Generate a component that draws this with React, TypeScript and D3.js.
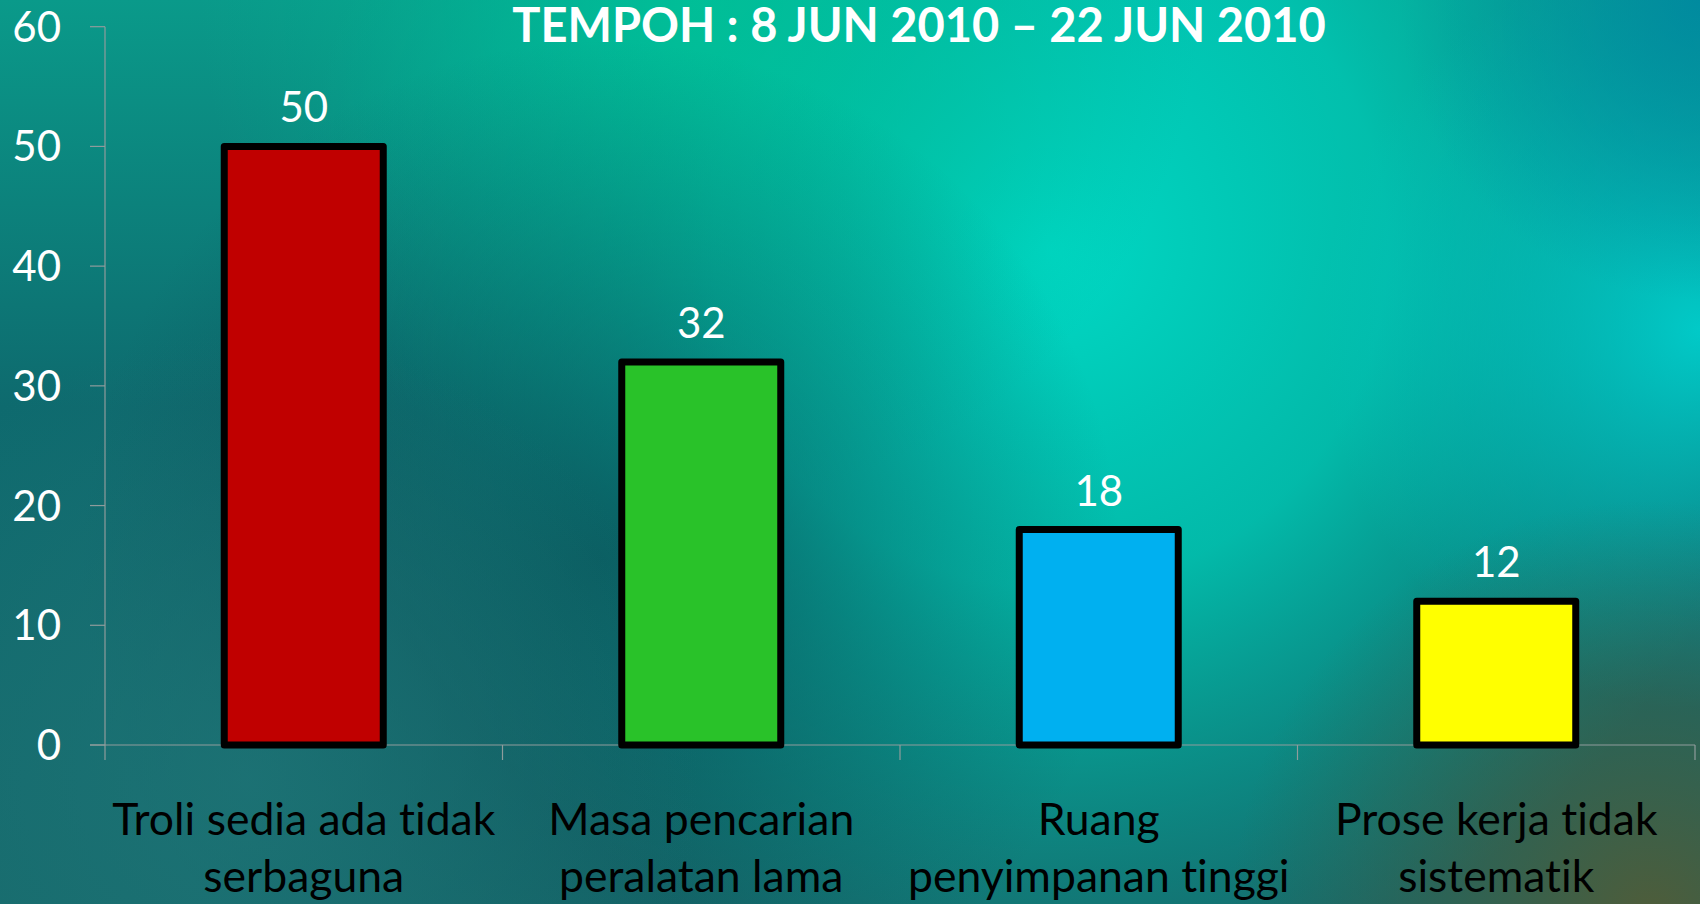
import React from "react";
import * as d3 from "d3";

const categories: string[][] = [
  ["Troli sedia ada tidak", "serbaguna"],
  ["Masa pencarian", "peralatan lama"],
  ["Ruang", "penyimpanan tinggi"],
  ["Prose kerja tidak", "sistematik"],
];
const values: number[] = [50, 32, 18, 12];
const barColors: string[] = ["#c00000", "#29c229", "#00b0f0", "#ffff00"];
const yTicks: number[] = [0, 10, 20, 30, 40, 50, 60];
const title = "TEMPOH : 8 JUN 2010 – 22 JUN 2010";

const W = 1700;
const H = 904;
const FONT = "Lato, 'Open Sans', sans-serif";
const noLig: React.CSSProperties = {
  fontVariantLigatures: "none",
  fontFeatureSettings: '"liga" 0, "clig" 0',
};

export default function App() {
  const keys = categories.map((c) => c.join(" "));
  const x = d3
    .scaleBand<string>()
    .domain(keys)
    .range([105, 1695])
    .paddingInner(0.6)
    .paddingOuter(0.3);
  const y = d3.scaleLinear().domain([0, 60]).range([745, 26.7]);
  const step = x.step();
  const boundaries = d3.range(keys.length + 1).map((i) => 105 + i * step);
  const axisColor = "#8f9c9c";

  return (
    <svg
      width={W}
      height={H}
      style={{ position: "absolute", left: 0, top: 0, display: "block" }}
    >
      <defs>
        <linearGradient id="base" x1="0" y1="0" x2="0" y2="1">
          <stop offset="0" stopColor="#0a9a8a" />
          <stop offset="0.45" stopColor="#0e6a6e" />
          <stop offset="1" stopColor="#166a6c" />
        </linearGradient>
        <radialGradient id="glow" cx="1050" cy="250" r="750" gradientUnits="userSpaceOnUse">
          <stop offset="0" stopColor="#00d8c4" stopOpacity="1" />
          <stop offset="0.45" stopColor="#00c8b4" stopOpacity="0.85" />
          <stop offset="1" stopColor="#00a898" stopOpacity="0" />
        </radialGradient>
        <radialGradient id="topglow" cx="700" cy="0" r="500" gradientUnits="userSpaceOnUse">
          <stop offset="0" stopColor="#00c096" stopOpacity="0.9" />
          <stop offset="1" stopColor="#00b090" stopOpacity="0" />
        </radialGradient>
        <radialGradient id="dark" cx="600" cy="560" r="520" gradientUnits="userSpaceOnUse">
          <stop offset="0" stopColor="#0b4f56" stopOpacity="0.75" />
          <stop offset="1" stopColor="#0b4f56" stopOpacity="0" />
        </radialGradient>
        <radialGradient id="rightcyan" cx="1700" cy="330" r="380" gradientUnits="userSpaceOnUse">
          <stop offset="0" stopColor="#00d2d0" stopOpacity="0.9" />
          <stop offset="1" stopColor="#00c8c8" stopOpacity="0" />
        </radialGradient>
        <radialGradient id="tr" cx="1700" cy="0" r="300" gradientUnits="userSpaceOnUse">
          <stop offset="0" stopColor="#0088a0" stopOpacity="0.9" />
          <stop offset="1" stopColor="#0088a0" stopOpacity="0" />
        </radialGradient>
        <radialGradient id="br" cx="1650" cy="920" r="420" gradientUnits="userSpaceOnUse">
          <stop offset="0" stopColor="#5a5a30" stopOpacity="0.85" />
          <stop offset="1" stopColor="#3a5a40" stopOpacity="0" />
        </radialGradient>
        <radialGradient id="bl" cx="250" cy="780" r="450" gradientUnits="userSpaceOnUse">
          <stop offset="0" stopColor="#1e7476" stopOpacity="0.8" />
          <stop offset="1" stopColor="#1e7476" stopOpacity="0" />
        </radialGradient>
      </defs>
      <rect x={0} y={0} width={W} height={H} fill="url(#base)" />
      <rect x={0} y={0} width={W} height={H} fill="url(#glow)" />
      <rect x={0} y={0} width={W} height={H} fill="url(#topglow)" />
      <rect x={0} y={0} width={W} height={H} fill="url(#dark)" />
      <rect x={0} y={0} width={W} height={H} fill="url(#rightcyan)" />
      <rect x={0} y={0} width={W} height={H} fill="url(#tr)" />
      <rect x={0} y={0} width={W} height={H} fill="url(#bl)" />
      <rect x={0} y={0} width={W} height={H} fill="url(#br)" />

      {/* Title */}
      <text
        x={919}
        y={42}
        textAnchor="middle"
        fill="#ffffff"
        fontFamily={FONT}
        fontWeight={700}
        fontSize={47}
        style={noLig}
      >
        {title}
      </text>

      {/* Y axis */}
      <line x1={105} x2={105} y1={y(60)} y2={y(0)} stroke={axisColor} strokeWidth={1.2} />
      {yTicks.map((t) => (
        <g key={t}>
          <line x1={90} x2={105} y1={y(t)} y2={y(t)} stroke={axisColor} strokeWidth={1.2} />
          <text
            x={61}
            y={y(t) + 15}
            textAnchor="end"
            fill="#ffffff"
            fontFamily={FONT}
            fontSize={42}
          >
            {t}
          </text>
        </g>
      ))}

      {/* X axis */}
      <line x1={90} x2={1695} y1={y(0)} y2={y(0)} stroke={axisColor} strokeWidth={1.2} />
      {boundaries.map((b, i) => (
        <line key={i} x1={b} x2={b} y1={y(0)} y2={y(0) + 15} stroke={axisColor} strokeWidth={1.2} />
      ))}

      {/* Bars */}
      {values.map((v, i) => (
        <rect
          key={keys[i]}
          x={x(keys[i])!}
          y={y(v)}
          width={x.bandwidth()}
          height={y(0) - y(v)}
          fill={barColors[i]}
          stroke="#000000"
          strokeWidth={7}
          strokeLinejoin="round"
        />
      ))}

      {/* Value labels */}
      {values.map((v, i) => (
        <text
          key={"v" + i}
          x={x(keys[i])! + x.bandwidth() / 2}
          y={y(v) - 24}
          textAnchor="middle"
          fill="#ffffff"
          fontFamily={FONT}
          fontSize={42}
        >
          {v}
        </text>
      ))}

      {/* Category labels */}
      {categories.map((lines, i) => (
        <text
          key={"c" + i}
          x={x(keys[i])! + x.bandwidth() / 2}
          textAnchor="middle"
          fill="#000000"
          fontFamily={FONT}
          fontSize={44.5}
          style={noLig}
        >
          {lines.map((l, j) => (
            <tspan key={j} x={x(keys[i])! + x.bandwidth() / 2} y={835 + j * 57}>
              {l}
            </tspan>
          ))}
        </text>
      ))}
    </svg>
  );
}
